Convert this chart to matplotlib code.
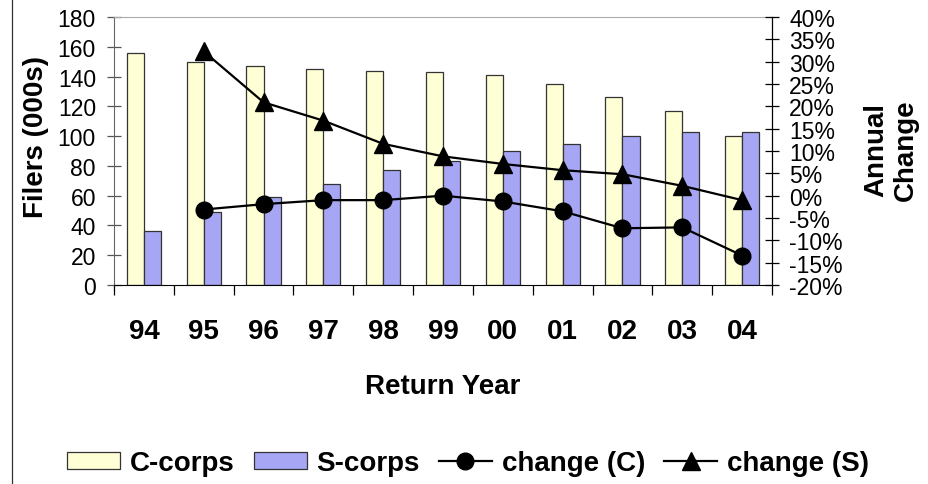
import matplotlib
matplotlib.use('Agg')
import matplotlib.pyplot as plt
from matplotlib.lines import Line2D
import numpy as np

plt.rcParams['font.family'] = ['Liberation Sans', 'DejaVu Sans']

years = ['94', '95', '96', '97', '98', '99', '00', '01', '02', '03', '04']
c_corps = [156, 150, 147, 145, 144, 143, 141, 135, 126, 117, 100]
s_corps = [36, 49, 59, 68, 77, 83, 90, 95, 100, 103, 103]
# annual change (%), no value for the first year
change_c = [None, -3.1, -1.9, -1.0, -1.0, 0.0, -1.3, -3.5, -7.3, -7.1, -13.4]
change_s = [None, 32.3, 20.9, 16.8, 11.6, 8.8, 7.1, 5.7, 4.8, 2.2, -1.0]

fig = plt.figure(figsize=(9.29, 4.85), dpi=100)
ax = fig.add_axes([114 / 929, 1 - 286 / 485, (772 - 114) / 929, (286 - 18) / 485])

x = np.arange(len(years))
w = 0.285
ax.bar(x - w / 2, c_corps, w, color='#FFFFD6', edgecolor='#333333', linewidth=0.9, label='C-corps')
ax.bar(x + w / 2, s_corps, w, color='#A6A6F5', edgecolor='#333333', linewidth=0.9, label='S-corps')

ax.set_xlim(-0.5, len(years) - 0.5)
ax.set_ylim(0, 180)
ax.set_yticks(range(0, 181, 20))
ax.tick_params(axis='y', direction='inout', length=10, width=0.9, color='#555555',
               labelsize=16.5, pad=8)
ax.set_xticks(x)
ax.set_xticklabels(years, fontsize=20, fontweight='bold')
ax.tick_params(axis='x', which='major', length=0, pad=24)
ax.set_xticks(np.arange(-0.5, len(years), 1.0), minor=True)
ax.tick_params(axis='x', which='minor', direction='out', length=7.5, width=0.9)
ax.spines['left'].set_color('#666666')
ax.spines['top'].set_color('#AAAAAA')
ax.spines['right'].set_visible(False)
fig.text(36 / 929, 1 - 137 / 485, 'Filers (000s)', rotation=90, ha='center', va='center',
         fontsize=20, fontweight='bold')
fig.text(443 / 929, 1 - 387 / 485, 'Return Year', ha='center', va='center',
         fontsize=20, fontweight='bold')

ax2 = ax.twinx()
cc = [np.nan if v is None else v for v in change_c]
cs = [np.nan if v is None else v for v in change_s]
ax2.plot(x, cc, color='black', lw=1.6, marker='o', markersize=12, label='change (C)')
ax2.plot(x, cs, color='black', lw=1.6, marker='^', markersize=13, label='change (S)')
ax2.set_ylim(-20, 40)
ax2.set_yticks(range(-20, 41, 5))
ax2.set_yticklabels([f'{v}%' for v in range(-20, 41, 5)])
ax2.tick_params(axis='y', direction='inout', length=10, width=0.9, labelsize=16.5, pad=7.5)
for s in ['left', 'top', 'bottom']:
    ax2.spines[s].set_visible(False)
ax2.spines['right'].set_linewidth(0.9)

fig.text(891 / 929, 1 - 150 / 485, 'Annual\nChange', rotation=90, ha='center', va='center',
         fontsize=20, fontweight='bold', linespacing=1.15)

fig.add_artist(Line2D([12 / 929, 12 / 929], [0, 1], color='#333333', lw=0.9))

handles = [ax.patches[0], ax.patches[len(years)]] + ax2.get_lines()
leg = fig.legend(handles, ['C-corps', 'S-corps', 'change (C)', 'change (S)'],
                 loc='center', bbox_to_anchor=(468 / 929, 1 - 464 / 485), ncol=4,
                 frameon=False, prop={'size': 20, 'weight': 'bold'},
                 handlelength=1.9, handleheight=0.55, handletextpad=0.35,
                 columnspacing=0.7, markerscale=1.0, borderpad=0, borderaxespad=0)

fig.savefig('out.png', dpi=100)
